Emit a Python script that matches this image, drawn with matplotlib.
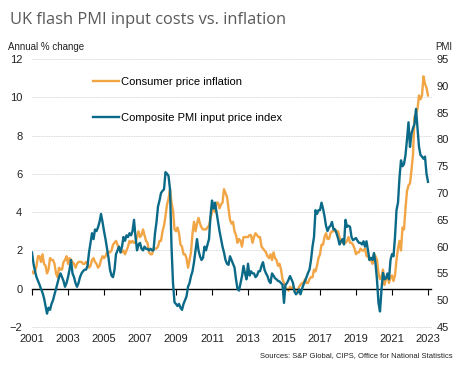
import numpy as np
import matplotlib
matplotlib.use("Agg")
import matplotlib.pyplot as plt

plt.rcParams["font.family"] = ["Liberation Sans", "DejaVu Sans"]

# UK CPI, annual % change, monthly Jan 2001 - Jan 2023
cpi = [
    0.9, 0.8, 0.9, 1.2, 1.7, 1.7, 1.4, 1.8, 1.3, 1.2, 0.8, 1.0,
    1.6, 1.5, 1.5, 1.3, 0.8, 0.6, 1.1, 1.0, 1.0, 1.4, 1.5, 1.7,
    1.3, 1.6, 1.5, 1.4, 1.3, 1.1, 1.3, 1.4, 1.4, 1.4, 1.3, 1.3,
    1.4, 1.3, 1.1, 1.2, 1.5, 1.6, 1.4, 1.3, 1.1, 1.2, 1.5, 1.7,
    1.6, 1.7, 1.9, 1.9, 1.9, 2.0, 2.3, 2.4, 2.5, 2.3, 2.1, 2.0,
    1.9, 2.0, 1.8, 2.0, 2.2, 2.5, 2.4, 2.5, 2.4, 2.4, 2.7, 3.0,
    2.7, 2.8, 3.1, 2.8, 2.5, 2.4, 1.9, 1.8, 1.8, 2.1, 2.1, 2.1,
    2.2, 2.5, 2.5, 3.0, 3.3, 3.8, 4.4, 4.7, 5.2, 4.5, 4.1, 3.1,
    3.0, 3.2, 2.9, 2.3, 2.2, 1.8, 1.8, 1.6, 1.1, 1.5, 1.9, 2.9,
    3.5, 3.0, 3.4, 3.7, 3.4, 3.2, 3.1, 3.1, 3.1, 3.2, 3.3, 3.7,
    4.0, 4.4, 4.0, 4.5, 4.5, 4.2, 4.4, 4.5, 5.2, 5.0, 4.8, 4.2,
    3.6, 3.4, 3.5, 3.0, 2.8, 2.4, 2.6, 2.5, 2.2, 2.7, 2.7, 2.7,
    2.7, 2.8, 2.8, 2.4, 2.7, 2.9, 2.8, 2.7, 2.7, 2.2, 2.1, 2.0,
    1.9, 1.7, 1.6, 1.8, 1.5, 1.9, 1.6, 1.5, 1.2, 1.3, 1.0, 0.5,
    0.3, 0.0, 0.0, -0.1, 0.1, 0.0, 0.1, 0.0, -0.1, -0.1, 0.1, 0.2,
    0.3, 0.3, 0.5, 0.3, 0.3, 0.5, 0.6, 0.6, 1.0, 0.9, 1.2, 1.6,
    1.8, 2.3, 2.3, 2.7, 2.9, 2.6, 2.6, 2.9, 3.0, 3.0, 3.1, 3.0,
    3.0, 2.7, 2.5, 2.4, 2.4, 2.4, 2.5, 2.7, 2.4, 2.4, 2.3, 2.1,
    1.8, 1.9, 1.9, 2.1, 2.0, 2.0, 2.1, 1.7, 1.7, 1.5, 1.5, 1.3,
    1.8, 1.7, 1.5, 0.8, 0.5, 0.6, 1.0, 0.2, 0.5, 0.7, 0.3, 0.6,
    0.7, 0.4, 0.7, 1.5, 2.1, 2.5, 2.0, 3.2, 3.1, 4.2, 5.1, 5.4,
    5.5, 6.2, 7.0, 9.0, 9.1, 9.4, 10.1, 9.9, 10.1, 11.1, 10.7, 10.5,
    10.1,
]

# Composite PMI input price index (right axis), same months
pmi = [
    58.9, 56.8, 55.4, 54.3, 53.6, 52.9, 52.1, 51.4, 50.4, 48.9, 47.5, 48.6,
    48.2, 49.3, 50.0, 51.1, 52.1, 53.2, 54.3, 55.0, 54.3, 53.6, 52.5, 53.2,
    54.3, 55.7, 57.5, 55.0, 54.3, 53.2, 52.5, 53.2, 54.3, 55.0, 55.4, 55.7,
    55.7, 56.4, 58.9, 60.7, 62.5, 61.4, 63.2, 62.9, 63.6, 64.6, 66.1, 64.6,
    62.9, 61.4, 59.6, 57.9, 55.7, 54.6, 54.3, 55.7, 58.6, 59.3, 60.0, 58.9,
    60.0, 61.8, 61.1, 62.1, 61.8, 62.5, 62.1, 62.9, 65.0, 61.8, 59.3, 60.4,
    60.7, 59.6, 59.3, 60.0, 59.6, 59.6, 59.3, 59.6, 59.3, 59.3, 62.5, 64.6,
    67.5, 68.6, 70.0, 70.4, 70.7, 73.9, 73.6, 73.2, 70.7, 60.0, 53.2, 49.6,
    49.3, 48.9, 49.3, 48.6, 48.2, 49.3, 50.0, 50.7, 52.5, 53.2, 54.5, 55.4,
    57.1, 59.3, 61.4, 59.3, 58.2, 57.5, 57.9, 60.0, 59.3, 60.4, 61.4, 65.7,
    68.6, 67.1, 68.2, 66.4, 64.6, 62.9, 61.4, 60.0, 58.9, 57.5, 56.8, 56.6,
    58.2, 57.5, 56.8, 56.1, 53.9, 52.1, 51.8, 53.2, 54.5, 56.4, 55.0, 53.9,
    56.8, 54.6, 55.4, 55.0, 55.0, 54.3, 54.6, 55.4, 55.4, 56.4, 57.1, 55.7,
    55.0, 54.5, 53.6, 53.2, 55.0, 54.6, 54.1, 53.9, 53.6, 53.5, 53.2, 52.9,
    49.5, 52.9, 53.2, 53.8, 54.5, 53.9, 53.2, 51.6, 51.1, 51.4, 52.0, 51.1,
    52.1, 52.9, 53.6, 54.3, 55.1, 55.7, 57.5, 60.0, 61.8, 66.8, 66.1, 66.8,
    66.8, 68.2, 67.1, 65.7, 63.9, 62.9, 63.6, 63.9, 64.6, 63.2, 63.2, 62.5,
    61.6, 60.4, 61.0, 61.4, 60.4, 65.0, 63.7, 63.9, 63.7, 61.8, 61.2, 61.4,
    61.6, 61.1, 60.7, 60.7, 60.4, 61.0, 60.0, 61.0, 59.3, 57.5, 57.9, 57.5,
    58.8, 56.9, 53.8, 49.5, 47.9, 52.0, 55.1, 53.9, 54.1, 55.0, 53.9, 57.5,
    58.6, 58.2, 61.8, 66.8, 68.2, 72.9, 76.1, 75.0, 75.4, 77.1, 80.0, 83.2,
    78.6, 81.1, 82.1, 82.9, 85.7, 82.1, 78.6, 77.1, 76.8, 76.4, 76.8, 73.6,
    72.1,
]

start_year = 2001
year_ticks = list(range(2001, 2024, 2))
left_ticks = [-2, 0, 2, 4, 6, 8, 10, 12]
right_ticks = [45, 50, 55, 60, 65, 70, 75, 80, 85, 90, 95]

t = start_year + np.arange(len(cpi)) / 12

orange = "#f2a545"
teal = "#0a6a88"
grey_txt = "#222222"

fig = plt.figure(figsize=(4.64, 3.67), dpi=100)
ax = fig.add_axes([0.069, 0.109, 0.86, 0.73])
ax2 = ax.twinx()

(l1,) = ax.plot(t, cpi, color=orange, lw=1.7, label="Consumer price inflation")
(l2,) = ax2.plot(t, pmi, color=teal, lw=1.7, label="Composite PMI input price index")

ax.set_xlim(2001, 2023.17)
ax.set_ylim(-2, 12)
ax2.set_ylim(45, 95)

ax.set_yticks(left_ticks)
ax2.set_yticks(right_ticks)
for y in left_ticks:
    if y != 0:
        ax.axhline(y, color="#c8c8c8", lw=0.6, ls=(0, (1, 1)), zorder=0, clip_on=False)

for a in (ax, ax2):
    for s in a.spines.values():
        s.set_visible(False)

ax.spines["bottom"].set_visible(True)
ax.spines["bottom"].set_position(("data", 0))
ax.spines["bottom"].set_color("black")
ax.spines["bottom"].set_linewidth(1.0)
ax.set_xticks(year_ticks)
ax.tick_params(axis="x", length=4, width=0.8, color="black", labelbottom=False)
ax.tick_params(axis="y", length=0, labelsize=8, colors=grey_txt, pad=7)
ax2.tick_params(axis="y", length=0, labelsize=8, colors=grey_txt, pad=4)

sec = ax.secondary_xaxis("bottom")
sec.set_xticks(year_ticks)
sec.set_xticklabels([str(y) for y in year_ticks])
sec.tick_params(length=0, labelsize=8, colors=grey_txt, pad=5)
sec.spines["bottom"].set_visible(False)

ax.legend(handles=[l1, l2], loc="upper left", bbox_to_anchor=(0.14, 0.955),
          frameon=False, fontsize=8, handlelength=2.3, handletextpad=0.2,
          labelspacing=2.4, borderpad=0)

fig.text(0.022, 0.945, "UK flash PMI input costs vs. inflation", fontsize=11.8,
         color="#595959", family=["Open Sans", "DejaVu Sans"], va="center")
fig.text(0.017, 0.872, "Annual % change", fontsize=7, color=grey_txt, va="center")
fig.text(0.975, 0.872, "PMI", fontsize=7, color=grey_txt, va="center", ha="right")
fig.text(0.975, 0.032, "Sources: S&P Global, CIPS, Office for National Statistics",
         fontsize=5.5, color=grey_txt, ha="right", va="center")

fig.savefig("out.png", dpi=100)
